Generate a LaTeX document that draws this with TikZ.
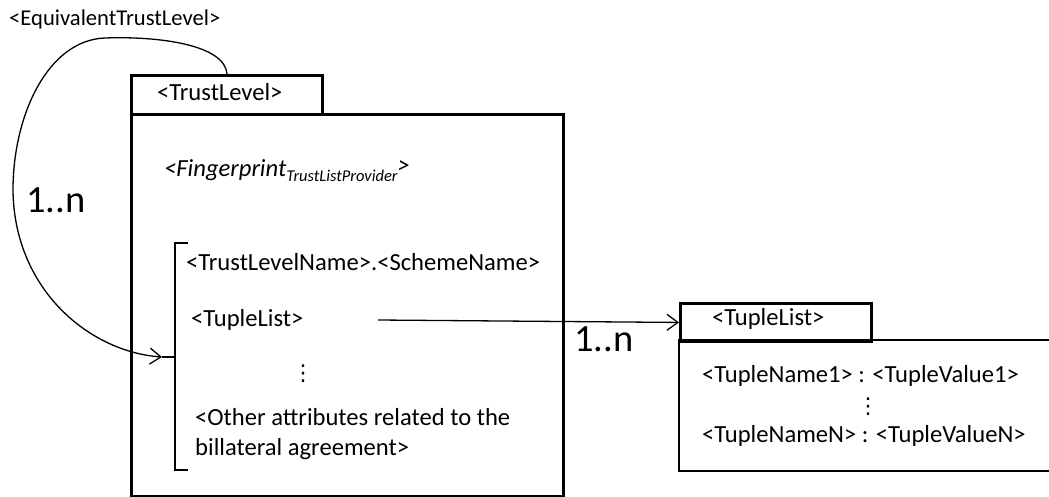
\documentclass[tikz,border=0pt]{standalone}
\usepackage{fontspec}
\setmainfont{Carlito}
\newfontfamily\symfont{DejaVu Sans}
\usetikzlibrary{arrows.meta}
\begin{document}
\begin{tikzpicture}[x=1pt,y=-1pt,
  boxline/.style={line width=2.9pt,line join=miter},
  frame/.style={draw,boxline,rectangle,inner sep=0pt,anchor=north west},
  lbl/.style={inner sep=0pt,anchor=base west,font=\fontsize{24.6}{28}\selectfont},
  mult/.style={inner sep=0pt,anchor=base west,font=\fontsize{38.5}{44}\selectfont},
  vdot/.style={inner sep=0pt,font=\symfont\fontsize{22}{22}\selectfont},
  link/.style={line width=1.3pt,-{Straight Barb[length=11pt,width=16pt,line width=1.3pt]}},
  brace/.style={line width=2pt}]
\clip (0,0) rectangle (1049,497);

% trust level package
\node[frame,minimum width=191pt,minimum height=39pt] (tltab) at (130,74) {};
\node[frame,minimum width=432pt,minimum height=382pt] (tlbody) at (130,113) {};
\node[lbl] (tlname) at (157,101) {<TrustLevel>};
\node[lbl] (fp) at (164,177) {\itshape <Fingerprint\raisebox{-5pt}{\fontsize{16.5}{16}\selectfont TrustListProvider}\raisebox{3.5pt}{>}};

% bracket grouping the attributes
\coordinate (brtop) at (188,243);
\coordinate (brbot) at (188,470);
\coordinate (brmid) at (175,357);
\coordinate (brtick) at (162,357);
\draw[brace] (brtop) -- ++(-13,0) |- (brbot);
\draw[brace] (brmid) -- (brtick);

\node[lbl] (tlsn) at (186,270) {<TrustLevelName>.<SchemeName>};
\node[lbl] (tupref) at (191,326) {<TupleList>};
\node[vdot] (dots1) at (303,374) {⋮};
\node[lbl] (other1) at (195,425) {<Other attributes related to the};
\node[lbl] (other2) at (195,455) {billateral agreement>};

% tuple list package
\node[frame,minimum width=191pt,minimum height=38pt] (tuptab) at (679,302) {};
\coordinate (tupTR) at (1060,340);
\coordinate (tupBR) at (1060,471);
\draw[boxline] (tupTR) -| (tuptab.south west) -- (679,471) -- (tupBR);
\node[lbl] (tuptitle) at (712,325) {<TupleList>};
\node[lbl] (tup1) at (702,382) {<TupleName1> : <TupleValue1>};
\node[vdot] (dots2) at (868,407) {⋮};
\node[lbl] (tupn) at (702,442) {<TupleNameN> : <TupleValueN>};

% connectors
\coordinate (eqstart) at (227,74);
\coordinate (tupout) at (378,320);
\draw[link] (eqstart) .. controls (225,45) and (160,36) .. (105,38)
  .. controls (48,40) and (13,115) .. (13,190)
  .. controls (14,290) and (90,352) .. (brtick);
\draw[link] (tupout) -- (tuptab.west);

\node[inner sep=0pt,anchor=base west,font=\fontsize{22.6}{26}\selectfont] (eqname) at (9,26) {<EquivalentTrustLevel>};
\node[mult] (m1) at (26,213) {1..n};
\node[mult] (m2) at (574,351) {1..n};
\end{tikzpicture}
\end{document}
